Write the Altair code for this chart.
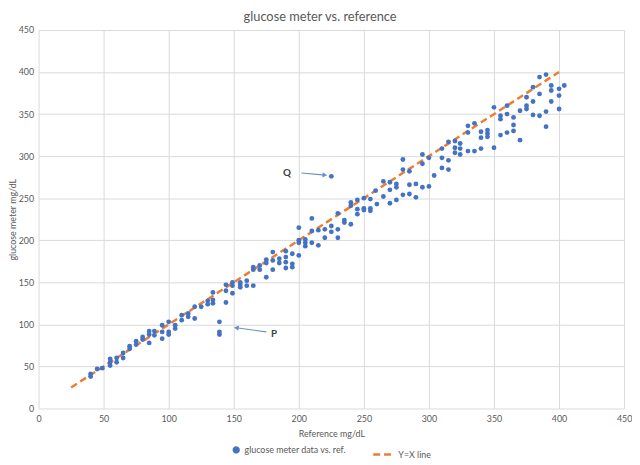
import altair as alt
import pandas as pd

# Reference (x) and meter (y) readings
ref = [40, 40, 45, 49, 55, 55, 55, 60, 60, 65, 65, 70, 70, 75, 75, 80, 80, 85, 85, 85,
       89, 89, 95, 95, 95, 100, 100, 100, 105, 105, 110, 110, 115, 115, 120, 120, 125,
       130, 130, 134, 134, 134, 139, 139, 139, 144, 144, 144, 149, 149, 149, 155, 155, 155,
       160, 160, 165, 165, 165, 170, 170, 175, 175, 175, 180, 180, 180, 185, 185,
       190, 190, 190, 190, 195, 195, 195, 200, 200, 200, 200, 205, 205, 205, 210, 210, 210,
       215, 215, 220, 220, 225, 225, 225, 230, 230, 230, 235, 235, 240, 240, 240,
       245, 245, 245, 250, 250, 250, 255, 255, 255, 259, 260, 265, 265, 270, 270, 270,
       275, 275, 275, 280, 280, 280, 285, 285, 285, 290, 290, 295, 295, 295, 300, 300, 304,
       310, 310, 310, 315, 315, 315, 320, 320, 320, 324, 324, 324, 330, 330, 330, 335, 335,
       340, 340, 340, 345, 345, 345, 350, 350, 355, 355, 355, 360, 360, 360, 365, 365, 365,
       370, 370, 375, 375, 375, 380, 380, 380, 385, 385, 385, 390, 390, 390, 394, 394, 394,
       400, 400, 400, 404]
meter = [41, 38, 47, 48, 59, 55, 51, 60, 55, 66, 60, 74, 71, 80, 76, 85, 82, 92, 88, 78,
         92, 87, 99, 91, 83, 103, 91, 88, 99, 95, 111, 105, 113, 109, 121, 107, 121,
         128, 124, 138, 129, 125, 103, 91, 88, 147, 140, 126, 150, 146, 137, 150, 147, 144,
         152, 146, 168, 165, 146, 170, 165, 177, 173, 156, 186, 176, 165, 178, 173,
         187, 180, 174, 167, 184, 172, 168, 215, 200, 197, 182, 201, 197, 193, 226, 211, 197,
         212, 194, 213, 203, 276, 217, 210, 232, 213, 203, 224, 221, 219, 245, 241,
         248, 237, 231, 250, 238, 236, 249, 238, 235, 259, 243, 270, 252, 269, 260, 244,
         267, 263, 248, 296, 284, 254, 282, 266, 255, 267, 251, 302, 291, 263, 264, 298, 277,
         309, 298, 286, 317, 295, 284, 318, 310, 304, 315, 309, 302, 336, 328, 306, 339, 306,
         329, 322, 309, 331, 327, 323, 358, 310, 348, 344, 325, 360, 350, 328, 346, 337, 330,
         354, 319, 370, 360, 356, 382, 365, 349, 394, 374, 348, 397, 353, 335, 384, 378, 365,
         380, 372, 356, 384]

line_x = [25, 400]
line_y = [25, 400]

series_names = ["glucose meter data vs. ref.", "Y=X line"]
series_colors = ["#4472C4", "#ED7D31"]

# annotations (data units)
note_labels = ["Q", "P"]
note_x = [191, 181]
note_y = [280, 88]
arrow_x1 = [202, 175]
arrow_y1 = [280, 91]
arrow_x2 = [220, 152]
arrow_y2 = [277.5, 96]
arrow_angle = [94, 279]

pts = pd.DataFrame({"ref": ref, "meter": meter, "series": series_names[0]})
ln = pd.DataFrame({"ref": line_x, "meter": line_y, "series": series_names[1]})
notes = pd.DataFrame({"label": note_labels, "x": note_x, "y": note_y})
arrows = pd.DataFrame({"x1": arrow_x1, "y1": arrow_y1, "x2": arrow_x2, "y2": arrow_y2,
                       "angle": arrow_angle})

xs = alt.Scale(domain=[0, 450], nice=False)
ys = alt.Scale(domain=[0, 450], nice=False)
ticks = list(range(0, 451, 50))

xaxis = alt.Axis(values=ticks, title="Reference  mg/dL", grid=True, domain=False,
                 ticks=False, labelPadding=6, labelFlush=False, titlePadding=6)
yaxis = alt.Axis(values=ticks, title="glucose meter  mg/dL", grid=True, domain=False,
                 ticks=False, labelPadding=5, titlePadding=1)

leg = alt.Legend(title=None)
color = alt.Color("series:N", scale=alt.Scale(domain=series_names, range=series_colors),
                  legend=leg)
shape = alt.Shape("series:N", scale=alt.Scale(domain=series_names, range=["circle", "stroke"]),
                  legend=leg)
size = alt.Size("series:N", scale=alt.Scale(domain=series_names, range=[24, 400]),
                legend=leg)
dash = alt.StrokeDash("series:N", scale=alt.Scale(domain=series_names, range=[[1, 0], [7, 4]]),
                      legend=leg)

points = alt.Chart(pts).mark_point(filled=True, opacity=1).encode(
    x=alt.X("ref:Q", scale=xs, axis=xaxis),
    y=alt.Y("meter:Q", scale=ys, axis=yaxis),
    color=color,
    shape=shape,
    size=size,
)

line = alt.Chart(ln).mark_line(strokeWidth=2.5).encode(
    x=alt.X("ref:Q", scale=xs),
    y=alt.Y("meter:Q", scale=ys),
    color=color,
    strokeDash=dash,
)

arrow_lines = alt.Chart(arrows).mark_rule(color="#6A8FC9", strokeWidth=1.2).encode(
    x="x1:Q", y="y1:Q", x2="x2:Q", y2="y2:Q"
)
arrow_heads = alt.Chart(arrows).mark_point(shape="triangle-up", filled=True, size=30,
                                           color="#6A8FC9", opacity=1).encode(
    x="x2:Q", y="y2:Q", angle=alt.Angle("angle:Q", scale=None)
)
labels = alt.Chart(notes).mark_text(fontWeight="bold", fontSize=10, color="#404040",
                                    font="Lato").encode(
    x="x:Q", y="y:Q", text="label:N"
)

chart = alt.layer(line, points, arrow_lines, arrow_heads, labels).properties(
    width=594, height=384,
    title=alt.Title("glucose meter vs. reference", fontSize=13, color="#595959",
                    font="Lato", fontWeight="normal", offset=2, frame="bounds"),
    padding={"left": 0, "right": 0, "top": 0, "bottom": 0},
).configure_view(stroke=None).configure_axis(
    gridColor="#D9D9D9", labelColor="#595959", titleColor="#595959",
    labelFont="Lato", titleFont="Lato", labelFontSize=9, titleFontSize=9,
    titleFontWeight="normal",
).configure_legend(
    orient="none", legendX=196, legendY=419, direction="horizontal",
    labelFont="Lato", labelFontSize=9,
    labelColor="#595959", columnPadding=22, symbolStrokeWidth=2.5,
)

chart.save("out.html", embed_options={"renderer": "svg", "actions": False})
